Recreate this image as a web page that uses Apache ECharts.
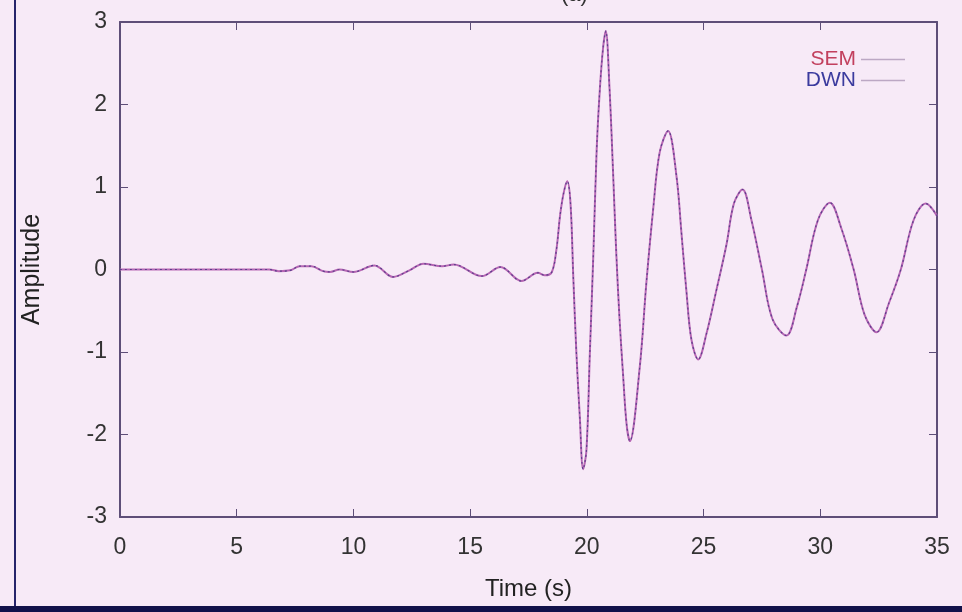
<!DOCTYPE html>
<html><head><meta charset="utf-8">
<script src="https://cdn.jsdelivr.net/npm/echarts@6/dist/echarts.min.js"></script>
<style>html,body{margin:0;padding:0;background:#f7eaf7;}#c{width:962px;height:612px;}</style>
</head><body><div id="c"></div>
<script>
const timeS = [0,6.4,6.8,7.3,7.7,8.2,8.7,9.0,9.4,10.0,10.9,11.7,12.4,13.0,13.8,14.3,15.5,16.3,17.2,17.9,18.2,18.5,
  18.7,18.85,19.0,19.16,19.3,19.42,19.55,19.7,19.84,19.98,20.13,20.28,20.42,20.56,20.7,20.81,20.97,21.12,21.26,21.4,21.55,21.7,21.84,
  22.27,22.55,22.84,23.12,23.48,23.84,24.05,24.27,24.48,24.77,25.13,25.55,25.98,26.3,26.67,27.05,27.5,27.95,28.55,29.0,29.4,29.9,30.41,30.9,31.43,31.9,32.41,32.95,33.45,34.0,34.52,35];
const semAmp = [0,0,-0.02,-0.01,0.04,0.04,-0.02,-0.03,0.0,-0.03,0.05,-0.09,-0.01,0.07,0.04,0.06,-0.08,0.03,-0.14,-0.04,-0.07,-0.03,
  0.25,0.65,0.92,1.07,0.8,-0.1,-1.0,-1.8,-2.42,-2.2,-1.0,0.2,1.45,2.2,2.7,2.89,2.2,1.2,0.2,-0.6,-1.27,-1.87,-2.08,
  -1.17,-0.16,0.73,1.42,1.68,1.13,0.45,-0.28,-0.85,-1.09,-0.77,-0.25,0.3,0.8,0.97,0.6,0.0,-0.6,-0.8,-0.45,0.0,0.6,0.81,0.5,0.0,-0.55,-0.76,-0.4,0.0,0.6,0.8,0.65];
const dwnAmp = [0,0,-0.02,-0.01,0.04,0.04,-0.02,-0.03,0.0,-0.03,0.05,-0.09,-0.01,0.07,0.04,0.06,-0.08,0.03,-0.14,-0.04,-0.07,-0.03,
  0.25,0.65,0.92,1.07,0.8,-0.1,-1.0,-1.8,-2.42,-2.2,-1.0,0.2,1.45,2.2,2.7,2.89,2.2,1.2,0.2,-0.6,-1.27,-1.87,-2.08,
  -1.17,-0.16,0.73,1.42,1.68,1.13,0.45,-0.28,-0.85,-1.09,-0.77,-0.25,0.3,0.8,0.97,0.6,0.0,-0.6,-0.8,-0.45,0.0,0.6,0.81,0.5,0.0,-0.55,-0.76,-0.4,0.0,0.6,0.8,0.65];
const xTicks = [0,5,10,15,20,25,30,35];
const yTicks = [-3,-2,-1,0,1,2,3];

const font = 'Liberation Sans';
const axisCol = '#5e4e78';
const chart = echarts.init(document.getElementById('c'), null, {renderer:'canvas'});
const pair = (xs, ys) => xs.map((x,i)=>[x, ys[i]]);
const tickStyle = {show:true, inside:true, length:8, lineStyle:{color:axisCol, width:1}};
const lineStyleAx = {show:true, onZero:false, lineStyle:{color:axisCol, width:2}};
chart.setOption({
  backgroundColor:'#f7eaf7',
  animation:false,
  title:{text:'(a)', left:556, top:-21, textStyle:{fontFamily:font, fontSize:22, fontWeight:'normal', color:'#333'}},
  grid:{left:120, right:25, top:22, bottom:95, show:false},
  legend:{
    orient:'vertical', right:52, top:44, align:'right', itemGap:0, itemWidth:44, itemHeight:1.5, icon:'rect',
    textStyle:{fontFamily:font, fontSize:21},
    data:[
      {name:'SEM', itemStyle:{color:'#bca8c4'}, textStyle:{color:'#c2405e'}},
      {name:'DWN', itemStyle:{color:'#bca8c4'}, textStyle:{color:'#3b3b9e'}}
    ]
  },
  xAxis:[{
    type:'value', min:0, max:35, interval:5,
    name:'Time (s)', nameLocation:'middle', nameGap:60,
    nameTextStyle:{fontFamily:font, fontSize:24, color:'#222'},
    axisLine:lineStyleAx,
    axisTick:tickStyle,
    axisLabel:{fontFamily:font, fontSize:23, color:'#333', margin:19},
    splitLine:{show:false}
  },{
    type:'value', min:0, max:35, interval:5, position:'top',
    axisLine:lineStyleAx,
    axisTick:tickStyle, axisLabel:{show:false}, splitLine:{show:false}
  }],
  yAxis:[{
    type:'value', min:-3, max:3, interval:1,
    name:'Amplitude', nameLocation:'middle', nameGap:75, nameRotate:90,
    nameTextStyle:{fontFamily:font, fontSize:25, color:'#222'},
    axisLine:lineStyleAx,
    axisTick:tickStyle,
    axisLabel:{fontFamily:font, fontSize:23, color:'#333', margin:13},
    splitLine:{show:false}
  },{
    type:'value', min:-3, max:3, interval:1, position:'right',
    axisLine:lineStyleAx,
    axisTick:tickStyle, axisLabel:{show:false}, splitLine:{show:false}
  }],
  series:[
    {name:'SEM', type:'line', data:pair(timeS, semAmp), smooth:0.35, showSymbol:false,
     lineStyle:{color:'#b767b4', width:2}, itemStyle:{color:'#bca8c4'}},
    {name:'DWN', type:'line', data:pair(timeS, dwnAmp), smooth:0.35, showSymbol:false,
     lineStyle:{color:'#5c3f8c', width:1.2, type:[2,3]}, itemStyle:{color:'#bca8c4'}}
  ],
  graphic:[
    {type:'rect', left:14, top:0, shape:{width:2, height:612}, style:{fill:'#26246a'}, silent:true},
    {type:'rect', left:0, top:606, shape:{width:962, height:6}, style:{fill:'#12124a'}, silent:true}
  ]
});
</script></body></html>
